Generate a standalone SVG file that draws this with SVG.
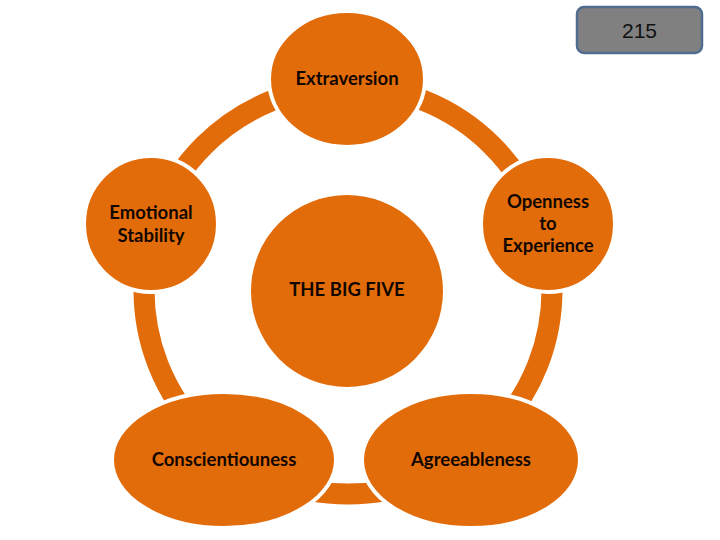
<svg xmlns="http://www.w3.org/2000/svg" width="720" height="540" viewBox="0 0 720 540">
<style>
.node{fill:#E36C0A;stroke:#FFFFFF;stroke-width:4}
.lbl{font-family:Lato,"Open Sans","Liberation Sans",sans-serif;font-weight:bold;font-size:18.5px;fill:#120700;text-anchor:middle}
.ring{fill:none;stroke:#E36C0A;stroke-width:21}
</style>
<rect width="720" height="540" fill="#FFFFFF"/>
<g id="connectors">
<circle class="ring" cx="348" cy="290" r="204"/>
</g>
<g id="center">
<circle class="node" cx="347" cy="291" r="98"/>
<text class="lbl" x="347" y="296">THE BIG FIVE</text>
</g>
<g id="extraversion">
<ellipse class="node" cx="347" cy="79" rx="78" ry="68"/>
<text class="lbl" x="347" y="85">Extraversion</text>
</g>
<g id="emotional-stability">
<ellipse class="node" cx="151" cy="224" rx="67" ry="68"/>
<text class="lbl" x="151" y="219">Emotional</text>
<text class="lbl" x="151" y="242">Stability</text>
</g>
<g id="openness">
<ellipse class="node" cx="548" cy="224" rx="67" ry="68"/>
<text class="lbl" x="548" y="208">Openness</text>
<text class="lbl" x="548" y="230">to</text>
<text class="lbl" x="548" y="252">Experience</text>
</g>
<g id="conscientiousness">
<ellipse class="node" cx="224" cy="460" rx="112" ry="68"/>
<text class="lbl" x="224" y="466">Conscientiouness</text>
</g>
<g id="agreeableness">
<ellipse class="node" cx="471" cy="460" rx="109" ry="68"/>
<text class="lbl" x="471" y="466">Agreeableness</text>
</g>
<g id="page-number">
<rect x="577" y="7" width="125" height="46" rx="7" ry="7" fill="#808080" stroke="#4F6B8F" stroke-width="2.5"/>
<text x="639.5" y="38" font-family="'Liberation Sans',Arial,sans-serif" font-size="21" fill="#111111" text-anchor="middle">215</text>
</g>
</svg>
